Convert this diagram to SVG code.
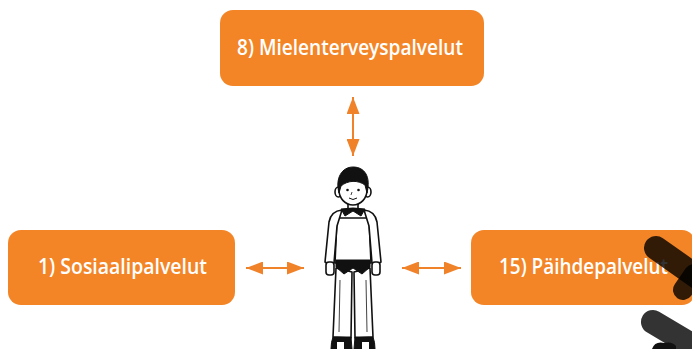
<svg xmlns="http://www.w3.org/2000/svg" width="692" height="349" viewBox="0 0 692 349">
<defs>
<style>
.box{fill:#F38526;}
.lbl{fill:#ffffff;font-family:"Open Sans","Noto Sans",sans-serif;font-weight:600;font-size:21px;text-anchor:middle;}
.con{stroke:#F0822A;stroke-width:2;fill:none;marker-start:url(#ah);marker-end:url(#ah);}
.ln{stroke:#111;stroke-width:1.6;fill:#fff;stroke-linejoin:round;stroke-linecap:round;}
.blk{fill:#111;stroke:#111;stroke-width:1;stroke-linejoin:round;}
.dark{stroke:#000;stroke-opacity:0.8;fill:none;stroke-linecap:round;stroke-linejoin:round;}
</style>
<marker id="ah" markerUnits="userSpaceOnUse" markerWidth="17" markerHeight="13" refX="17" refY="6.5" orient="auto-start-reverse">
<path d="M0,0 L17,6.5 L0,13 Z" fill="#F0822A"/>
</marker>
</defs>
<rect width="692" height="349" fill="#ffffff"/>

<g id="node-mielenterveyspalvelut">
<rect class="box" x="220" y="10" width="264" height="76" rx="13"/>
<text class="lbl" x="350" y="55" textLength="226" lengthAdjust="spacingAndGlyphs">8) Mielenterveyspalvelut</text>
</g>

<g id="node-sosiaalipalvelut">
<rect class="box" x="8" y="230" width="227" height="75" rx="13"/>
<text class="lbl" x="122.5" y="274" textLength="169" lengthAdjust="spacingAndGlyphs">1) Sosiaalipalvelut</text>
</g>

<g id="node-paihdepalvelut">
<rect class="box" x="471" y="230" width="224" height="75" rx="13"/>
<text class="lbl" x="583.5" y="274" textLength="169" lengthAdjust="spacingAndGlyphs">15) Päihdepalvelut</text>
</g>

<g id="connectors">
<line class="con" x1="353" y1="97" x2="353" y2="156"/>
<line class="con" x1="246" y1="268" x2="304" y2="268"/>
<line class="con" x1="402" y1="268" x2="461" y2="268"/>
</g>

<g id="node-person">
<!-- legs -->
<path class="ln" d="M336,268 L333,337 L351,338 L352,272 Z"/>
<path class="ln" d="M370,268 L373,337 L355,338 L354,272 Z"/>
<path d="M340,280 L339,332 M366,280 L367,332" stroke="#111" stroke-width="0.8" fill="none"/>
<!-- shoes -->
<path class="blk" d="M333,337 L351,337 L352,349 L331,349 Q331,342 333,337 Z"/>
<path class="blk" d="M355,337 L373,337 Q375,342 375,349 L354,349 Z"/>
<path d="M337,342 L344,342 L344,349 L337,349 Z M362,342 L369,342 L369,349 L362,349 Z" fill="#fff"/>
<!-- torso -->
<path class="ln" d="M337,218 L335,263 L371,263 L369,218 Z"/>
<!-- arms -->
<path class="ln" d="M342,210 Q331,211 329,222 L325,262 Q329,265 334,263 L337,226 Z"/>
<path class="ln" d="M364,210 Q375,211 377,222 L381,262 Q377,265 372,263 L369,226 Z"/>
<!-- hands -->
<rect class="ln" x="326" y="262" width="8" height="13" rx="3"/>
<rect class="ln" x="372" y="262" width="8" height="13" rx="3"/>
<!-- waist -->
<path class="blk" d="M336,260 L370,260 L370,267 L362,274 L353,268 L344,274 L336,267 Z"/>
<!-- neck -->
<path class="ln" d="M348,202 L348,209 L358,209 L358,202"/>
<!-- collar -->
<path class="blk" d="M341,209 L353,208 L365,209 L361,216 L353,211 L345,216 Z"/>
<!-- ears -->
<ellipse class="ln" cx="338.5" cy="192" rx="3.5" ry="5"/>
<ellipse class="ln" cx="367.5" cy="192" rx="3.5" ry="5"/>
<!-- face -->
<ellipse class="ln" cx="353" cy="190" rx="14" ry="15"/>
<!-- hair -->
<path class="blk" d="M339,193 C335,178 342,167 353,167 C365,167 371,177 367,193 L365,185 C358,180 348,180 341,186 Z"/>
<!-- eyes & mouth -->
<circle cx="347.5" cy="190" r="1.3" fill="#111"/>
<circle cx="358.5" cy="190" r="1.3" fill="#111"/>
<path d="M352,192 L351,195" stroke="#111" stroke-width="0.8" fill="none"/>
<path d="M349,198 Q353,201 357,198" stroke="#111" stroke-width="1" fill="none"/>
</g>

<!-- dark overlay shapes at right edge -->
<path class="dark" d="M656,248 L700,279" stroke-width="24"/>
<path class="dark" d="M694,274 L683,290" stroke-width="20"/>
<path class="dark" d="M653,322 L700,350" stroke-width="24"/>
<path d="M652,349 Q655,341 664,343 Q672,341 676,346 L676,349 Z" fill="#111"/>
</svg>
